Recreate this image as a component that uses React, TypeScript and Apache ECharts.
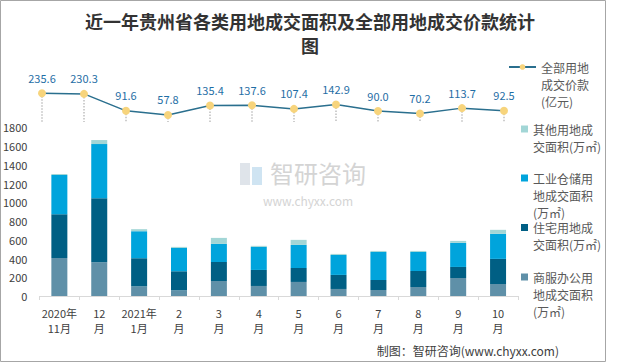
import React, { useEffect, useRef } from 'react';
import * as echarts from 'echarts';

const categories = ['2020年\n11月', '12\n月', '2021年\n1月', '2\n月', '3\n月', '4\n月', '5\n月', '6\n月', '7\n月', '8\n月', '9\n月', '10\n月'];
const commercialArea = [406, 360, 103, 61, 160, 107, 150, 75, 64, 96, 192, 128];
const residentialArea = [467, 684, 300, 203, 203, 171, 149, 150, 107, 171, 118, 268];
const industrialArea = [417, 577, 288, 249, 193, 246, 246, 213, 299, 203, 257, 267];
const otherArea = [11, 43, 22, 11, 64, 11, 54, 11, 11, 11, 21, 43];
const totalPrice = [235.6, 230.3, 91.6, 57.8, 135.4, 137.6, 107.4, 142.9, 90.0, 70.2, 113.7, 92.5];

const NAME_PRICE = '全部用地成交价款(亿元)';
const NAME_OTHER = '其他用地成交面积(万㎡)';
const NAME_IND = '工业仓储用地成交面积(万㎡)';
const NAME_RES = '住宅用地成交面积(万㎡)';
const NAME_COM = '商服办公用地成交面积(万㎡)';

const legendLines: Record<string, string> = {
  [NAME_PRICE]: '全部用地\n成交价款\n(亿元)',
  [NAME_OTHER]: '其他用地成\n交面积(万㎡)',
  [NAME_IND]: '工业仓储用\n地成交面积\n(万㎡)',
  [NAME_RES]: '住宅用地成\n交面积(万㎡)',
  [NAME_COM]: '商服办公用\n地成交面积\n(万㎡)',
};

const FONT = "'Noto Sans CJK SC', 'Noto Sans', sans-serif";
const LH = 17;

function legendFor(name: string, firstLineY: number, left: number, isLine: boolean) {
  const text = legendLines[name];
  const n = text.split('\n').length;
  const total = 2 * n - 1;
  return {
    data: [name],
    orient: 'vertical',
    left,
    top: firstLineY - (total * LH) / 2,
    padding: 0,
    itemWidth: isLine ? 27 : 7,
    itemHeight: 7,
    icon: isLine ? undefined : 'rect',
    selectedMode: false,
    formatter: (nm: string) => '\n'.repeat(n - 1) + legendLines[nm],
    textStyle: { fontFamily: FONT, fontSize: 12, lineHeight: LH, color: '#595959' },
  };
}

export default function App() {
  const ref = useRef<HTMLDivElement>(null);
  useEffect(() => {
    document.body.style.margin = '0';
    const chart = echarts.init(ref.current!, null, { renderer: 'svg' });
    const barCommon = {
      type: 'bar',
      stack: 'area',
      barWidth: 16,
      xAxisIndex: 0,
      yAxisIndex: 0,
    };
    chart.setOption({
      animation: false,
      backgroundColor: '#ffffff',
      title: {
        text: '近一年贵州省各类用地成交面积及全部用地成交价款统计\n图',
        left: 'center',
        top: 9,
        padding: [0, 6, 0, 0],
        textStyle: { fontFamily: FONT, fontSize: 18, fontWeight: 'bold', color: '#333333', lineHeight: 24 },
      },
      legend: [
        legendFor(NAME_PRICE, 67, 508, true),
        legendFor(NAME_OTHER, 129, 521, false),
        legendFor(NAME_IND, 178, 521, false),
        legendFor(NAME_RES, 227.5, 521, false),
        legendFor(NAME_COM, 277, 521, false),
      ],
      grid: [
        { left: 38, top: 127.3, width: 480, height: 168.7, containLabel: false },
        { left: 42, top: 85.4, width: 462, height: 36.6, containLabel: false },
      ],
      xAxis: [
        {
          type: 'category',
          gridIndex: 0,
          data: categories,
          axisLine: { lineStyle: { color: '#d9d9d9', width: 1 } },
          axisTick: { show: true, length: 4, lineStyle: { color: '#d9d9d9' } },
          axisLabel: { fontFamily: FONT, fontSize: 11, lineHeight: 15, color: '#404040', margin: 9, interval: 0 },
        },
        {
          type: 'category',
          gridIndex: 1,
          data: categories,
          boundaryGap: false,
          show: false,
        },
      ],
      yAxis: [
        {
          type: 'value',
          gridIndex: 0,
          min: 0,
          max: 1800,
          interval: 200,
          splitLine: { show: false },
          axisLine: { show: false },
          axisTick: { show: false },
          axisLabel: {
            fontFamily: FONT,
            fontSize: 11,
            color: '#404040',
            margin: 12,
            formatter: (v: number) => String(v),
          },
        },
        {
          type: 'value',
          gridIndex: 1,
          min: 0,
          max: 300,
          show: false,
          splitLine: { show: false },
        },
      ],
      series: [
        { ...barCommon, name: NAME_COM, data: commercialArea, itemStyle: { color: '#5f90a8' } },
        { ...barCommon, name: NAME_RES, data: residentialArea, itemStyle: { color: '#005f84' } },
        { ...barCommon, name: NAME_IND, data: industrialArea, itemStyle: { color: '#00a4dc' } },
        { ...barCommon, name: NAME_OTHER, data: otherArea, itemStyle: { color: '#a2d6d6' } },
        {
          type: 'line',
          name: NAME_PRICE,
          xAxisIndex: 1,
          yAxisIndex: 1,
          data: totalPrice,
          symbol: 'circle',
          symbolSize: 8,
          lineStyle: { color: '#2a6f8e', width: 1.5 },
          itemStyle: { color: '#f7d47c', borderWidth: 0 },
          z: 5,
          label: {
            show: true,
            position: 'top',
            distance: 6,
            fontFamily: FONT,
            fontSize: 11,
            color: '#1f6ea5',
            formatter: (p: any) => Number(p.value).toFixed(1),
          },
          markLine: {
            silent: true,
            symbol: ['none', 'none'],
            label: { show: false },
            lineStyle: { type: 'dotted', color: '#bfbfbf', width: 1.5 },
            emphasis: { disabled: true },
            data: totalPrice.map((v, i) => [
              { coord: [categories[i], v] },
              { coord: [categories[i], 0] },
            ]),
          },
        },
      ],
      graphic: [
        {
          type: 'rect',
          shape: { x: 0.5, y: 0.5, width: 605, height: 361 },
          style: { fill: 'none', stroke: '#a6a6a6', lineWidth: 1 },
          silent: true,
          z: 100,
        },
        {
          type: 'rect',
          shape: { x: 240, y: 163, width: 10, height: 22 },
          style: { fill: '#dfe4ea' },
          silent: true,
        },
        {
          type: 'rect',
          shape: { x: 252, y: 167, width: 10, height: 18 },
          style: { fill: '#cfe4f2' },
          silent: true,
        },
        {
          type: 'text',
          x: 270,
          y: 172,
          style: {
            text: '智研咨询',
            fontFamily: FONT,
            fontSize: 24,
            fill: '#d4d4d4',
            verticalAlign: 'middle',
          },
          silent: true,
        },
        {
          type: 'text',
          x: 308,
          y: 200,
          style: {
            text: 'www.chyxx.com',
            fontFamily: FONT,
            fontSize: 12,
            fill: '#d4d4d4',
            align: 'center',
            verticalAlign: 'middle',
          },
          silent: true,
        },
        {
          type: 'text',
          x: 559,
          y: 350,
          style: {
            text: '制图：智研咨询(www.chyxx.com)',
            fontFamily: FONT,
            fontSize: 12,
            fill: '#404040',
            align: 'right',
            verticalAlign: 'middle',
          },
          silent: true,
        },
      ],
    });
    return () => chart.dispose();
  }, []);
  return <div ref={ref} style={{ width: 620, height: 363 }} />;
}
